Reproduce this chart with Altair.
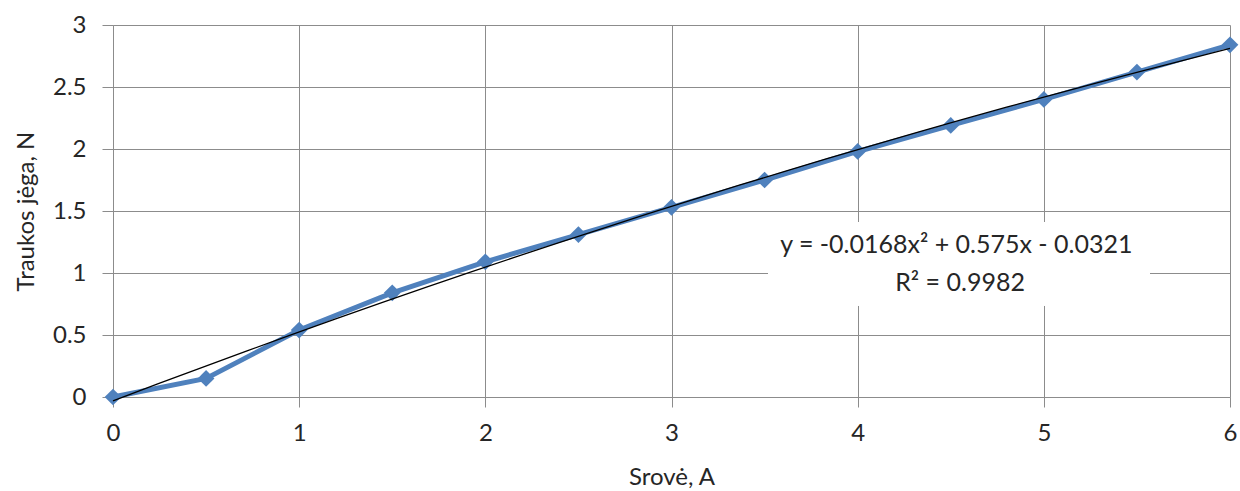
import altair as alt
import pandas as pd

# Measured current (A) and pull force (N)
current = [0, 0.5, 1, 1.5, 2, 2.5, 3, 3.5, 4, 4.5, 5, 5.5, 6]
force = [0.0, 0.15, 0.54, 0.84, 1.09, 1.31, 1.53, 1.75, 1.98, 2.19, 2.40, 2.62, 2.84]

x_ticks = [0, 1, 2, 3, 4, 5, 6]
y_ticks = [0, 0.5, 1, 1.5, 2, 2.5, 3]

eq_lines = ["y = -0.0168x\u00b2 + 0.575x - 0.0321", "R\u00b2 = 0.9982"]

df = pd.DataFrame({"Srove": current, "Jega": force})

FONT = "Lato"
GRID = "#8c8c8c"
BLUE = "#4f81bd"
TXT = "#262626"

x_scale = alt.Scale(domain=[0, 6], nice=False, zero=True)
y_scale = alt.Scale(domain=[0, 3], nice=False, zero=True)

x_axis = alt.Axis(
    title="Srovė,  A", values=x_ticks, format="d", grid=True, gridColor=GRID,
    gridWidth=1, domainColor=GRID, tickColor=GRID, tickSize=10,
    labelFontSize=24, labelColor=TXT, labelPadding=14, labelFlush=False,
    titleFontSize=24, titleFontWeight="normal", titleColor=TXT, titlePadding=20,
    labelFont=FONT, titleFont=FONT,
)
y_axis = alt.Axis(
    title="Traukos jėga, N", values=y_ticks, format="~g", grid=True, gridColor=GRID,
    gridWidth=1, domainColor=GRID, tickColor=GRID, tickSize=11,
    labelFontSize=24, labelColor=TXT, labelPadding=16, labelFlush=False,
    titleFontSize=24, titleFontWeight="normal", titleColor=TXT, titlePadding=14,
    labelFont=FONT, titleFont=FONT,
)

base = alt.Chart(df)

series = base.mark_line(
    color=BLUE, strokeWidth=5,
    point=alt.OverlayMarkDef(shape="diamond", size=280, color=BLUE, filled=True, opacity=1),
).encode(
    x=alt.X("Srove:Q", scale=x_scale, axis=x_axis),
    y=alt.Y("Jega:Q", scale=y_scale, axis=y_axis),
)

trend = base.transform_regression(
    "Srove", "Jega", method="poly", order=2, extent=[0, 6]
).mark_line(color="black", strokeWidth=1.3).encode(
    x=alt.X("Srove:Q", scale=x_scale),
    y=alt.Y("Jega:Q", scale=y_scale),
)

# white box behind the trendline equation
label_box = alt.Chart(df).mark_rect(color="white").encode(
    x=alt.datum(3.52), x2=alt.datum(5.57),
    y=alt.datum(1.41), y2=alt.datum(0.74),
)

eq_text = alt.Chart(pd.DataFrame({"t": [eq_lines[0]]})).mark_text(
    font=FONT, fontSize=25, color=TXT, align="center", baseline="middle"
).encode(x=alt.datum(4.53), y=alt.datum(1.225), text="t:N")

r2_text = alt.Chart(pd.DataFrame({"t": [eq_lines[1]]})).mark_text(
    font=FONT, fontSize=25, color=TXT, align="center", baseline="middle"
).encode(x=alt.datum(4.55), y=alt.datum(0.92), text="t:N")

chart = alt.layer(series, trend, label_box, eq_text, r2_text).properties(
    width=1117, height=372,
    autosize=alt.AutoSizeParams(type="none"),
    padding={"left": 113, "top": 25, "right": 10, "bottom": 94},
    background="white",
).configure_view(stroke=None)

chart.save("out.html", embed_options={"renderer": "svg", "actions": False})
